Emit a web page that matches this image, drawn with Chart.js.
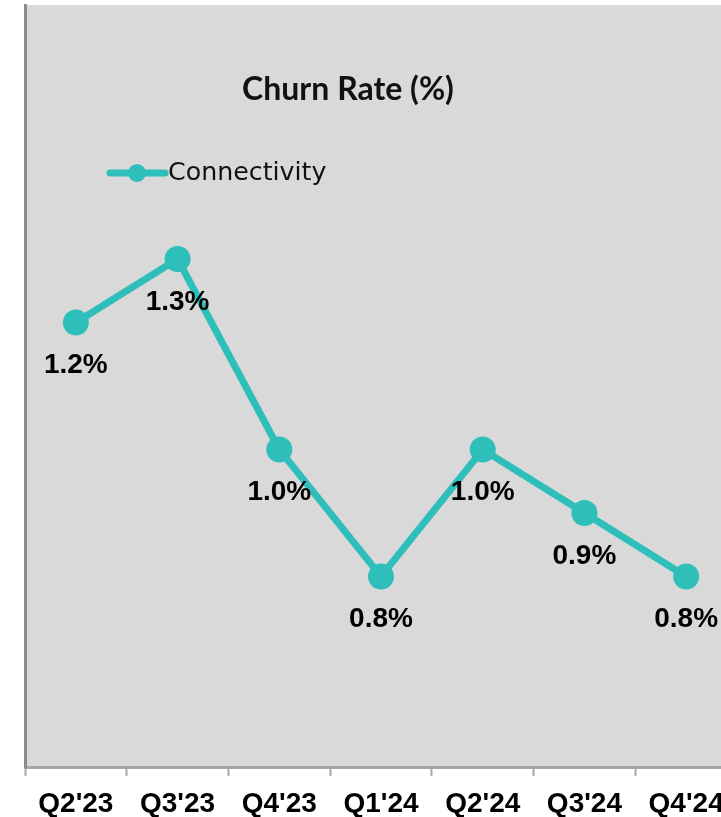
<!DOCTYPE html>
<html>
<head>
<meta charset="utf-8">
<script src="https://cdn.jsdelivr.net/npm/chart.js@4.4.1/dist/chart.umd.min.js"></script>
<style>
  html, body { margin: 0; padding: 0; background: #fff; }
  #wrap { width: 721px; height: 817px; overflow: hidden; position: relative; }
  #box { width: 737px; height: 817px; }
</style>
</head>
<body>
<div id="wrap"><div id="box"><canvas id="chart_box"></canvas></div></div>
<script>
var quarters = ["Q2'23", "Q3'23", "Q4'23", "Q1'24", "Q2'24", "Q3'24", "Q4'24"];
var churn = [1.2, 1.3, 1.0, 0.8, 1.0, 0.9, 0.8];
var seriesName = "Connectivity";
var chartTitle = "Churn Rate (%)";
var teal = '#2ebfbb';

// gray plot background, title and legend sit inside the plot area
var decor = {
    id: 'decor',
    beforeDraw: function (chart) {
        var a = chart.chartArea, ctx = chart.ctx;
        ctx.save();
        ctx.fillStyle = '#d9d9d9';
        ctx.fillRect(a.left, a.top, a.right - a.left, a.bottom - a.top);
        ctx.restore();
    },
    afterDraw: function (chart) {
        var ctx = chart.ctx;
        ctx.save();
        ctx.fillStyle = '#111';
        ctx.font = 'bold 32px Lato';
        ctx.textAlign = 'center';
        ctx.textBaseline = 'middle';
        ctx.fillText(chartTitle, 348, 90);

        // legend
        var ds = chart.data.datasets[0];
        ctx.strokeStyle = ds.borderColor;
        ctx.lineWidth = 7;
        ctx.lineCap = 'round';
        ctx.beginPath();
        ctx.moveTo(110, 173);
        ctx.lineTo(165, 173);
        ctx.stroke();
        ctx.fillStyle = ds.backgroundColor;
        ctx.beginPath();
        ctx.arc(137, 173, 9, 0, Math.PI * 2);
        ctx.fill();
        ctx.fillStyle = '#111';
        ctx.font = '25.3px "DejaVu Sans"';
        ctx.textAlign = 'left';
        ctx.fillText(ds.label, 168, 173);
        ctx.restore();
    }
};

// value labels under each point
var valueLabels = {
    id: 'valueLabels',
    afterDatasetsDraw: function (chart) {
        var ctx = chart.ctx;
        var meta = chart.getDatasetMeta(0);
        ctx.save();
        ctx.fillStyle = '#000';
        ctx.font = 'bold 28px "Liberation Sans"';
        ctx.textAlign = 'center';
        ctx.textBaseline = 'middle';
        meta.data.forEach(function (pt, i) {
            ctx.fillText(churn[i].toFixed(1) + '%', pt.x, pt.y + 43);
        });
        ctx.restore();
    }
};

var ctx = document.getElementById('chart_box').getContext('2d');
var chart = new Chart(ctx, {
    type: 'line',
    data: {
        labels: quarters,
        datasets: [{
            label: seriesName,
            data: churn,
            borderColor: teal,
            backgroundColor: teal,
            borderWidth: 7,
            pointRadius: 13,
            pointHoverRadius: 13,
            pointBorderWidth: 0,
            tension: 0
        }]
    },
    options: {
        responsive: true,
        maintainAspectRatio: false,
        animation: false,
        events: [],
        layout: { autoPadding: false, padding: { left: 25, top: 5, right: 0, bottom: 0 } },
        plugins: {
            legend: { display: false },
            title: { display: false },
            tooltip: { enabled: false }
        },
        scales: {
            x: {
                offset: true,
                grid: {
                    display: true,
                    drawOnChartArea: false,
                    drawTicks: true,
                    tickLength: 9,
                    tickWidth: 2,
                    tickColor: '#a6a6a6',
                    offset: true
                },
                border: { display: true, color: '#a6a6a6', width: 3 },
                ticks: {
                    color: '#000',
                    padding: 11,
                    maxRotation: 0,
                    font: { family: '"Liberation Sans"', size: 28, weight: 'bold' }
                },
                afterFit: function (s) { s.height = 50; }
            },
            y: {
                min: 0.5,
                max: 1.7,
                ticks: { display: false },
                grid: { display: false, drawTicks: false },
                border: { display: true, color: '#8c8c8c', width: 3 },
                afterFit: function (s) { s.width = 0; }
            }
        }
    },
    plugins: [decor, valueLabels]
});
</script>
</body>
</html>
